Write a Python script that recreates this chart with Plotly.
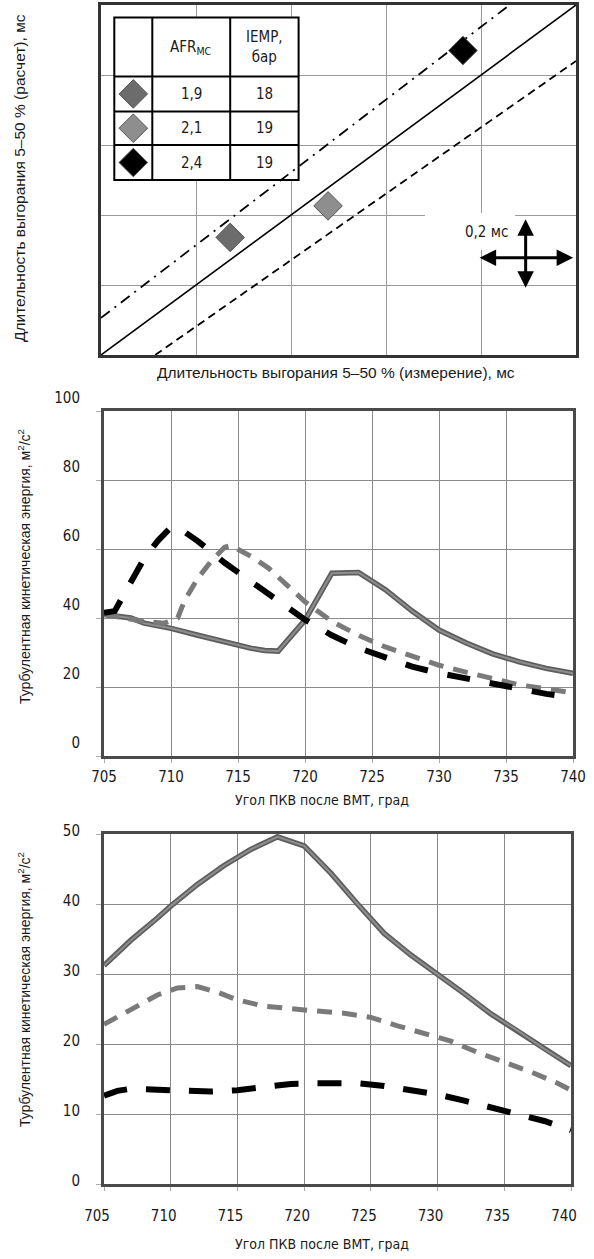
import plotly.graph_objects as go

W, H = 594, 1259

# ---------- Chart 1 data (units of 0.2 ms grid) ----------
pts_x = [1.36, 2.39, 3.81]
pts_y = [1.68, 2.13, 4.35]
pts_colors = ["#6c6c6c", "#8e8e8e", "#000000"]
afr_vals = ["1,9", "2,1", "2,4"]
iemp_vals = ["18", "19", "19"]

ideal_x = [0, 5]
ideal_y = [0, 5]
upper_x = [0, 4.3]
upper_y = [0.53, 5]
lower_x = [0.57, 5]
lower_y = [0, 4.2]

# ---------- Chart 2 data ----------
c2_solid_x = [705, 707, 708, 710, 712, 714, 716, 717, 718, 720, 722, 724, 726, 728, 730, 732, 734, 736, 738, 740]
c2_solid_y = [41, 40, 38.5, 37, 35, 33, 31.2, 30.6, 30.4, 39.4, 53, 53.2, 48.2, 42, 36.5, 32.8, 29.6, 27.3, 25.4, 24]

c2_gray_x = [705, 707, 708, 709.5, 710.5, 711, 712, 713, 714, 714.5, 716, 717.3, 718, 720, 722, 724, 726, 728, 730, 732, 734, 736, 738, 740]
c2_gray_y = [41, 39.8, 39, 38.5, 40, 45, 51.5, 56.5, 60.5, 61, 57.8, 54.4, 51.9, 44.7, 39, 35, 31.6, 28.8, 26.3, 24.3, 22.3, 20.6, 19.5, 18.3]

c2_black_x = [705, 705.8, 706.3, 707, 708, 709, 710, 710.5, 712, 714, 716, 718, 720, 722, 724, 726, 728, 730, 732, 734, 736, 738, 740]
c2_black_y = [41.5, 42, 45.5, 50.5, 57.3, 62.3, 66.3, 66.3, 62.3, 56, 50.5, 45, 39.5, 35, 31.3, 28.6, 25.9, 24, 22.5, 20.7, 19.4, 18, 17]

# ---------- Chart 3 data ----------
c3_solid_x = [705, 707, 709, 710, 712, 714, 716, 718, 720, 722, 724, 726, 728, 730, 732, 734, 736, 738, 740]
c3_solid_y = [31.2, 34.8, 38, 39.7, 42.8, 45.5, 47.8, 49.6, 48.3, 44.4, 40, 35.8, 32.7, 30, 27.2, 24.3, 21.9, 19.3, 16.9]

c3_gray_x = [705, 707, 709, 710.5, 712, 713.5, 715, 717, 719, 721, 723, 725, 727, 729, 731, 733, 735, 737, 739, 740]
c3_gray_y = [22.8, 25, 27, 28, 28.2, 27.4, 26.3, 25.4, 25, 24.7, 24.4, 23.8, 22.6, 21.5, 20.4, 18.8, 17.4, 16, 14.4, 13.4]

c3_black_x = [705, 706, 707, 709, 711, 713, 715, 717, 719, 721, 724, 726, 728, 730, 732, 734, 736, 738, 740]
c3_black_y = [12.6, 13.3, 13.6, 13.5, 13.3, 13.2, 13.4, 13.9, 14.3, 14.4, 14.4, 14.0, 13.5, 12.8, 11.9, 10.9, 10.0, 9.0, 7.7]

x_ticks = [705, 710, 715, 720, 725, 730, 735, 740]

NARROW = "Liberation Sans Narrow, DejaVu Sans Condensed, Liberation Sans, Arial, sans-serif"
REG = "Liberation Sans, Arial, sans-serif"
TXT = "#1a1a1a"


def px_x(p):
    return p / W


def px_y(p):
    return 1 - p / H


fig = go.Figure()

# ---- chart 1 traces ----
fig.add_trace(go.Scatter(x=ideal_x, y=ideal_y, mode="lines", line=dict(color="black", width=1.6),
                         xaxis="x", yaxis="y", showlegend=False, hoverinfo="skip"))
fig.add_trace(go.Scatter(x=upper_x, y=upper_y, mode="lines", line=dict(color="black", width=1.8, dash="11px,6px,2px,6px"),
                         xaxis="x", yaxis="y", showlegend=False, hoverinfo="skip"))
fig.add_trace(go.Scatter(x=lower_x, y=lower_y, mode="lines", line=dict(color="black", width=1.8, dash="8px,5px"),
                         xaxis="x", yaxis="y", showlegend=False, hoverinfo="skip"))
fig.add_trace(go.Scatter(x=pts_x, y=pts_y, mode="markers",
                         marker=dict(symbol="diamond", size=22, color=pts_colors,
                                     line=dict(color="#555555", width=1)),
                         xaxis="x", yaxis="y", showlegend=False, hoverinfo="skip"))

# legend table inside chart 1
tx = [0.14, 0.54, 1.36, 2.08]
ty = [4.82, 3.98, 3.48, 3.0, 2.5]
fig.add_shape(type="rect", xref="x", yref="y", x0=tx[0], x1=tx[3], y0=ty[4], y1=ty[0],
              fillcolor="white", line=dict(color="black", width=2), layer="between")
for xv in tx[1:3]:
    fig.add_shape(type="line", xref="x", yref="y", x0=xv, x1=xv, y0=ty[4], y1=ty[0],
                  line=dict(color="black", width=2), layer="between")
for yv in ty[1:4]:
    fig.add_shape(type="line", xref="x", yref="y", x0=tx[0], x1=tx[3], y0=yv, y1=yv,
                  line=dict(color="black", width=2), layer="between")

row_y = [(ty[i] + ty[i + 1]) / 2 for i in range(1, 4)]
fig.add_trace(go.Scatter(x=[(tx[0] + tx[1]) / 2] * 3, y=row_y, mode="markers",
                         marker=dict(symbol="diamond", size=22, color=pts_colors,
                                     line=dict(color="#555555", width=1)),
                         xaxis="x", yaxis="y", showlegend=False, hoverinfo="skip"))
cx2 = (tx[1] + tx[2]) / 2
cx3 = (tx[2] + tx[3]) / 2
hy = (ty[0] + ty[1]) / 2
fig.add_annotation(x=cx2, y=hy, xref="x", yref="y", text="AFR<sub>MC</sub>", showarrow=False,
                   font=dict(family=NARROW, size=15, color=TXT))
fig.add_annotation(x=cx3, y=hy, xref="x", yref="y", text="IEMP,<br>бар", showarrow=False,
                   font=dict(family=NARROW, size=15, color=TXT))
for i in range(3):
    fig.add_annotation(x=cx2, y=row_y[i], xref="x", yref="y", text=afr_vals[i], showarrow=False,
                       font=dict(family=NARROW, size=15, color=TXT))
    fig.add_annotation(x=cx3, y=row_y[i], xref="x", yref="y", text=iemp_vals[i], showarrow=False,
                       font=dict(family=NARROW, size=15, color=TXT))

# scale cross
fig.add_shape(type="rect", xref="x", yref="y", x0=3.41, x1=4.36, y0=1.5, y1=2.03,
              fillcolor="white", line=dict(width=0), layer="between")
fig.add_annotation(x=4.06, y=1.76, xref="x", yref="y", text="0,2 мс", showarrow=False,
                   font=dict(family=NARROW, size=15, color=TXT))
fig.add_annotation(x=4.97, y=1.39, ax=3.97, ay=1.39, xref="x", yref="y", axref="x", ayref="y",
                   text="", showarrow=True, arrowhead=2, arrowside="end+start", arrowsize=1.1,
                   arrowwidth=3, arrowcolor="black", standoff=0, startstandoff=0)
fig.add_annotation(x=4.47, y=1.94, ax=4.47, ay=0.94, xref="x", yref="y", axref="x", ayref="y",
                   text="", showarrow=True, arrowhead=2, arrowside="end+start", arrowsize=1.1,
                   arrowwidth=3, arrowcolor="black", standoff=0, startstandoff=0)

# ---- chart 2 traces ----
GRAY_DARK = "#5e5e5e"
GRAY_IN = "#8e8e8e"
GRAY_DASH = "#7a7a7a"

fig.add_trace(go.Scatter(x=c2_solid_x, y=c2_solid_y, mode="lines", line=dict(color=GRAY_DARK, width=5.5),
                         xaxis="x2", yaxis="y2", showlegend=False, hoverinfo="skip"))
fig.add_trace(go.Scatter(x=c2_solid_x, y=c2_solid_y, mode="lines", line=dict(color=GRAY_IN, width=2),
                         xaxis="x2", yaxis="y2", showlegend=False, hoverinfo="skip"))
fig.add_trace(go.Scatter(x=c2_gray_x, y=c2_gray_y, mode="lines",
                         line=dict(color=GRAY_DASH, width=5, dash="15px,10px"),
                         xaxis="x2", yaxis="y2", showlegend=False, hoverinfo="skip"))
fig.add_trace(go.Scatter(x=c2_black_x, y=c2_black_y, mode="lines",
                         line=dict(color="black", width=6, dash="23px,20px"),
                         xaxis="x2", yaxis="y2", showlegend=False, hoverinfo="skip"))

# ---- chart 3 traces ----
fig.add_trace(go.Scatter(x=c3_solid_x, y=c3_solid_y, mode="lines", line=dict(color=GRAY_DARK, width=5.5),
                         xaxis="x3", yaxis="y3", showlegend=False, hoverinfo="skip"))
fig.add_trace(go.Scatter(x=c3_solid_x, y=c3_solid_y, mode="lines", line=dict(color=GRAY_IN, width=2),
                         xaxis="x3", yaxis="y3", showlegend=False, hoverinfo="skip"))
fig.add_trace(go.Scatter(x=c3_gray_x, y=c3_gray_y, mode="lines",
                         line=dict(color=GRAY_DASH, width=5, dash="15px,10px"),
                         xaxis="x3", yaxis="y3", showlegend=False, hoverinfo="skip"))
fig.add_trace(go.Scatter(x=c3_black_x, y=c3_black_y, mode="lines",
                         line=dict(color="black", width=6, dash="24px,19px"),
                         xaxis="x3", yaxis="y3", showlegend=False, hoverinfo="skip"))

# ---- axes ----
grid1 = "#9a9a9a"
grid = "#8a8a8a"
border = "#4a4a4a"

common_lines = dict(showline=True, mirror=True, linecolor=border, linewidth=3, zeroline=False,
                    showgrid=True, gridcolor=grid, gridwidth=1)

fig.update_layout(
    width=W, height=H, autosize=False,
    margin=dict(l=0, r=0, t=0, b=0, pad=0, autoexpand=False),
    paper_bgcolor="white", plot_bgcolor="white",
    xaxis=dict(domain=[px_x(101), px_x(576)], range=[0, 5], dtick=1, tick0=0,
               showticklabels=False, ticks="", anchor="y",
               showline=True, mirror=True, linecolor="#333333", linewidth=3, zeroline=False,
               showgrid=True, gridcolor=grid1, gridwidth=1),
    yaxis=dict(domain=[px_y(355), px_y(5)], range=[0, 5], dtick=1, tick0=0,
               showticklabels=False, ticks="", anchor="x",
               showline=True, mirror=True, linecolor="#333333", linewidth=3, zeroline=False,
               showgrid=True, gridcolor=grid1, gridwidth=1),
    xaxis2=dict(domain=[px_x(104), px_x(573)], range=[705, 740], tickvals=x_ticks, anchor="y2",
                ticks="outside", ticklen=4, tickcolor="#aaaaaa", ticklabelstandoff=1,
                tickfont=dict(family=NARROW, size=15, color=TXT), **common_lines),
    yaxis2=dict(domain=[px_y(756), px_y(411)], range=[0, 100], dtick=20, tick0=0, anchor="x2",
                ticks="outside", ticklen=5, tickcolor="#aaaaaa", ticklabelstandoff=13, ticklabelshift=-13,
                tickfont=dict(family=NARROW, size=15, color=TXT), **common_lines),
    xaxis3=dict(domain=[px_x(104), px_x(571)], range=[705, 740], tickvals=x_ticks, anchor="y3",
                ticks="outside", ticklen=4, tickcolor="#aaaaaa", ticklabelstandoff=12, ticklabelshift=-7,
                tickfont=dict(family=NARROW, size=15, color=TXT), **common_lines),
    yaxis3=dict(domain=[px_y(1184), px_y(834)], range=[0, 50], dtick=10, tick0=0, anchor="x3",
                ticks="outside", ticklen=5, tickcolor="#aaaaaa", ticklabelstandoff=13, ticklabelshift=-3,
                tickfont=dict(family=NARROW, size=15, color=TXT), **common_lines),
)

# ---- axis titles (annotations in paper coords) ----
def title(px, py, text, size, family, angle=0):
    fig.add_annotation(x=px_x(px), y=px_y(py), xref="paper", yref="paper", textangle=angle,
                       xanchor="center", yanchor="middle", text=text, showarrow=False,
                       font=dict(family=family, size=size, color=TXT))


title(20, 178, "Длительность выгорания 5–50 % (расчет), мс", 15.5, REG, -90)
title(336, 372, "Длительность выгорания 5–50 % (измерение), мс", 15.5, REG)
title(24, 567, "Турбулентная кинетическая энергия, м<sup>2</sup>/с<sup>2</sup>", 14, REG, -90)
title(322, 800, "Угол ПКВ после ВМТ, град", 14, NARROW)
title(24, 990, "Турбулентная кинетическая энергия, м<sup>2</sup>/с<sup>2</sup>", 14, REG, -90)
title(322, 1244, "Угол ПКВ после ВМТ, град", 14, NARROW)

fig.write_html("out.html")
